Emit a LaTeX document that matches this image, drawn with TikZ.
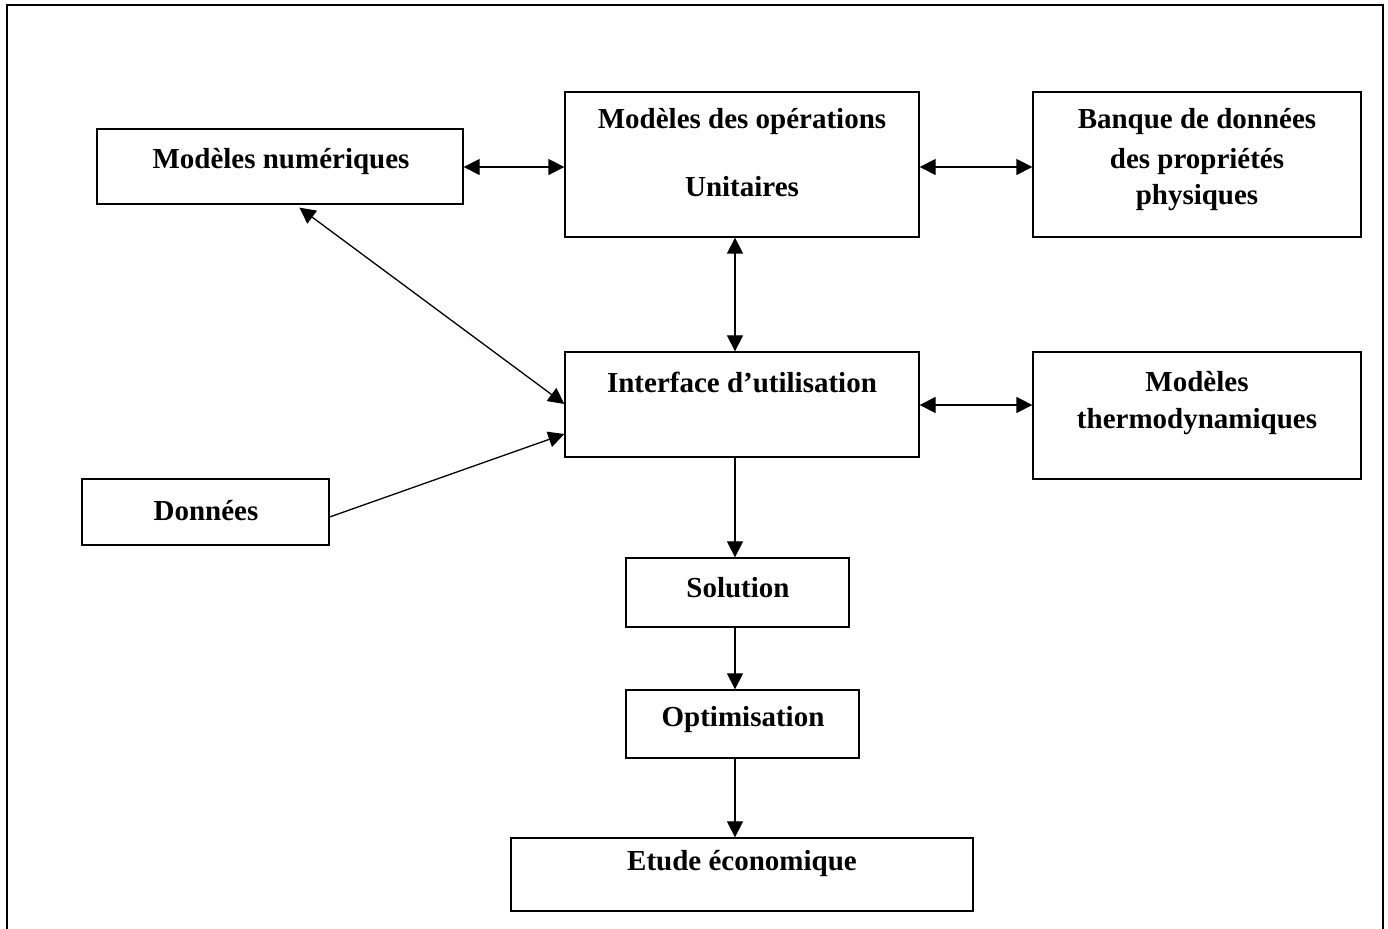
\documentclass[tikz,border=0pt]{standalone}
\usepackage{fontspec}
\setmainfont{Liberation Serif}
\usetikzlibrary{arrows.meta,calc}
\begin{document}
\begin{tikzpicture}[x=0.5pt,y=-0.5pt,
  txt/.style={font=\bfseries\fontsize{14.5pt}{16pt}\selectfont,inner sep=0pt,anchor=center},
  conn/.style={line width=0.65pt,-{Triangle[length=8pt,width=8pt]}},
  dconn/.style={line width=0.65pt,{Triangle[length=8pt,width=8pt]}-{Triangle[length=8pt,width=8pt]}}]
\useasboundingbox (0,0) rectangle (1388,929);
\draw[line width=0.75pt] (7,935) -- (7,5) -- (1383,5) -- (1383,935);
% boxes
\node[draw,line width=0.65pt,inner sep=0pt,minimum width=183pt,minimum height=37.5pt] (mn) at (280,166.5) {};
\node[draw,line width=0.65pt,inner sep=0pt,minimum width=177pt,minimum height=72.5pt] (mop) at (742,164.5) {};
\node[draw,line width=0.65pt,inner sep=0pt,minimum width=164pt,minimum height=72.5pt] (bq) at (1197,164.5) {};
\node[draw,line width=0.65pt,inner sep=0pt,minimum width=177pt,minimum height=52.5pt] (ui) at (742,404.5) {};
\node[draw,line width=0.65pt,inner sep=0pt,minimum width=164pt,minimum height=63.5pt] (th) at (1197,415.5) {};
\node[draw,line width=0.65pt,inner sep=0pt,minimum width=123.5pt,minimum height=33pt] (dn) at (205.5,512) {};
\node[draw,line width=0.65pt,inner sep=0pt,minimum width=111.5pt,minimum height=34.5pt] (so) at (737.5,592.5) {};
\node[draw,line width=0.65pt,inner sep=0pt,minimum width=116.5pt,minimum height=34pt] (op) at (742.5,724) {};
\node[draw,line width=0.65pt,inner sep=0pt,minimum width=231pt,minimum height=36.5pt] (ee) at (742,874.5) {};
% texts
\node[txt] (tmn) at (281,162) {Modèles numériques};
\node[txt] (tmop1) at (742,122) {Modèles des opérations};
\node[txt] (tmop2) at (742,187) {Unitaires};
\node[txt] (tbq1) at (1197,122) {Banque de données};
\node[txt] (tbq2) at (1197,162) {des propriétés};
\node[txt] (tbq3) at (1197,198) {physiques};
\node[txt] (tui) at (742,382) {Interface d’utilisation};
\node[txt] (tth1) at (1197,382) {Modèles};
\node[txt] (tth2) at (1197,422) {thermodynamiques};
\node[txt] (tdn) at (206,511) {Données};
\node[txt] (tso) at (738,588) {Solution};
\node[txt] (top) at (743,720) {Optimisation};
\node[txt] (tee) at (742,864) {Etude économique};
% connectors
\draw[dconn] (mn.east |- 0,167) -- (mop.west |- 0,167);
\draw[dconn] (mop.east |- 0,167) -- (bq.west |- 0,167);
\draw[dconn] (mop.south -| 735,0) -- (ui.north -| 735,0);
\draw[dconn] (ui.east |- 0,405) -- (th.west |- 0,405);
\draw[dconn] ($(mn.south west)+(203,3)$) -- (ui.west |- 0,404);
\draw[conn] (dn.east |- 0,517) -- (ui.west |- 0,434);
\draw[conn] (ui.south -| 735,0) -- (so.north -| 735,0);
\draw[conn] (so.south -| 735,0) -- (op.north -| 735,0);
\draw[conn] (op.south -| 735,0) -- (ee.north -| 735,0);
\end{tikzpicture}
\end{document}
